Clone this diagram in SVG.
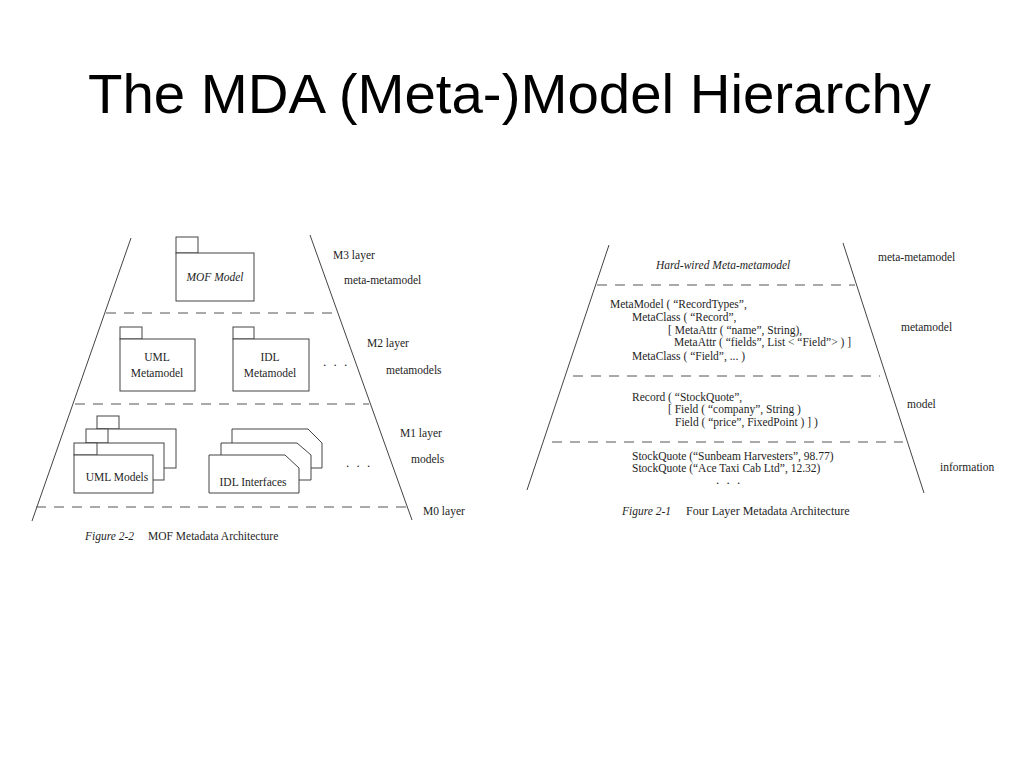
<svg xmlns="http://www.w3.org/2000/svg" width="1023" height="767" viewBox="0 0 1023 767">
<style>
.title{font-family:"Liberation Sans",Arial,sans-serif;font-size:56px;fill:#000}
.t{font-family:"Liberation Serif","Times New Roman",serif;font-size:11.5px;fill:#1e1e1e}
.cap{font-size:12px}
.it{font-style:italic}
.mid{text-anchor:middle}
.dots{font-family:"Liberation Serif",serif;font-size:13px;fill:#1e1e1e;letter-spacing:2px}
.edge{stroke:#444;stroke-width:1;fill:none}
.dash{stroke:#555;stroke-width:1;stroke-dasharray:10 8;fill:none}
.box{stroke:#444;stroke-width:1;fill:#fff}
</style>
<rect x="0" y="0" width="1023" height="767" fill="#fff"/>
<text class="title" x="88" y="113" textLength="843" lengthAdjust="spacingAndGlyphs">The MDA (Meta-)Model Hierarchy</text>

<g id="connectors">
  <g id="left-pyramid">
    <line class="edge" x1="131" y1="238" x2="32" y2="521"/>
    <line class="edge" x1="310" y1="235" x2="412" y2="520"/>
    <line class="dash" x1="106" y1="313" x2="337" y2="313"/>
    <line class="dash" x1="75" y1="404" x2="369" y2="404"/>
    <line class="dash" x1="36" y1="507" x2="407" y2="507"/>
  </g>
  <g id="right-pyramid">
    <line class="edge" x1="609" y1="245" x2="527" y2="490"/>
    <line class="edge" x1="843" y1="243" x2="924" y2="493"/>
    <line class="dash" x1="597" y1="285" x2="855" y2="285"/>
    <line class="dash" x1="573" y1="376" x2="880" y2="376"/>
    <line class="dash" x1="552" y1="442" x2="903" y2="442"/>
  </g>
</g>

<g id="mof-model">
  <rect class="box" x="176" y="237" width="22" height="16"/>
  <rect class="box" x="176" y="253" width="78" height="48"/>
  <text class="t it mid" x="215" y="281">MOF Model</text>
</g>
<g id="uml-metamodel">
  <rect class="box" x="120" y="327" width="22" height="12"/>
  <rect class="box" x="120" y="339" width="75" height="52"/>
  <text class="t mid" x="157" y="361">UML</text>
  <text class="t mid" x="157" y="377">Metamodel</text>
</g>
<g id="idl-metamodel">
  <rect class="box" x="233" y="327" width="21" height="12"/>
  <rect class="box" x="233" y="339" width="76" height="52"/>
  <text class="t mid" x="270" y="361">IDL</text>
  <text class="t mid" x="270" y="377">Metamodel</text>
</g>
<text class="dots" x="323" y="366">. . .</text>

<g id="uml-models">
  <rect class="box" x="97" y="416" width="22" height="13"/>
  <rect class="box" x="97" y="429" width="79" height="39"/>
  <rect class="box" x="86" y="429" width="22" height="14"/>
  <rect class="box" x="86" y="443" width="78" height="37"/>
  <rect class="box" x="74" y="443" width="23" height="12"/>
  <rect class="box" x="74" y="455" width="79" height="38"/>
  <text class="t mid" x="117" y="481">UML Models</text>
</g>
<g id="idl-interfaces">
  <polygon class="box" points="232,429 308,429 322,443 322,468 232,468"/>
  <polygon class="box" points="221,443 297,443 311,455 311,480 221,480"/>
  <polygon class="box" points="209,455 285,455 299,468 299,493 209,493"/>
  <text class="t mid" x="253" y="486">IDL Interfaces</text>
</g>
<text class="dots" x="346" y="467">. . .</text>

<g id="left-labels">
  <text class="t" x="333" y="259">M3 layer</text>
  <text class="t" x="344" y="284">meta-metamodel</text>
  <text class="t" x="367" y="347">M2 layer</text>
  <text class="t" x="386" y="374">metamodels</text>
  <text class="t" x="400" y="437">M1 layer</text>
  <text class="t" x="411" y="463">models</text>
  <text class="t" x="423" y="515">M0 layer</text>
  <text class="t it" x="85" y="540">Figure 2-2</text>
  <text class="t" x="148" y="540">MOF Metadata Architecture</text>
</g>

<g id="meta-metamodel-layer">
  <text class="t it" x="656" y="269">Hard-wired Meta-metamodel</text>
</g>
<g id="metamodel-layer">
  <text class="t" x="610" y="308">MetaModel ( “RecordTypes”,</text>
  <text class="t" x="632" y="321">MetaClass ( “Record”,</text>
  <text class="t" x="668" y="334">[ MetaAttr ( “name”, String),</text>
  <text class="t" x="674" y="346">MetaAttr ( “fields”, List &lt; “Field”&gt; ) ]</text>
  <text class="t" x="632" y="360">MetaClass ( “Field”, ... )</text>
</g>
<g id="model-layer">
  <text class="t" x="632" y="401">Record ( “StockQuote”,</text>
  <text class="t" x="668" y="413">[ Field ( “company”, String )</text>
  <text class="t" x="675" y="426">Field ( “price”, FixedPoint ) ] )</text>
</g>
<g id="information-layer">
  <text class="t" x="632" y="460">StockQuote (“Sunbeam Harvesters”, 98.77)</text>
  <text class="t" x="632" y="472">StockQuote (“Ace Taxi Cab Ltd”, 12.32)</text>
  <text class="dots" x="716" y="484">. . .</text>
</g>
<g id="right-labels">
  <text class="t" x="878" y="261">meta-metamodel</text>
  <text class="t" x="901" y="331">metamodel</text>
  <text class="t" x="907" y="408">model</text>
  <text class="t" x="940" y="471">information</text>
  <text class="t it" x="622" y="515">Figure 2-1</text>
  <text class="t cap" x="686" y="515">Four Layer Metadata Architecture</text>
</g>
</svg>
